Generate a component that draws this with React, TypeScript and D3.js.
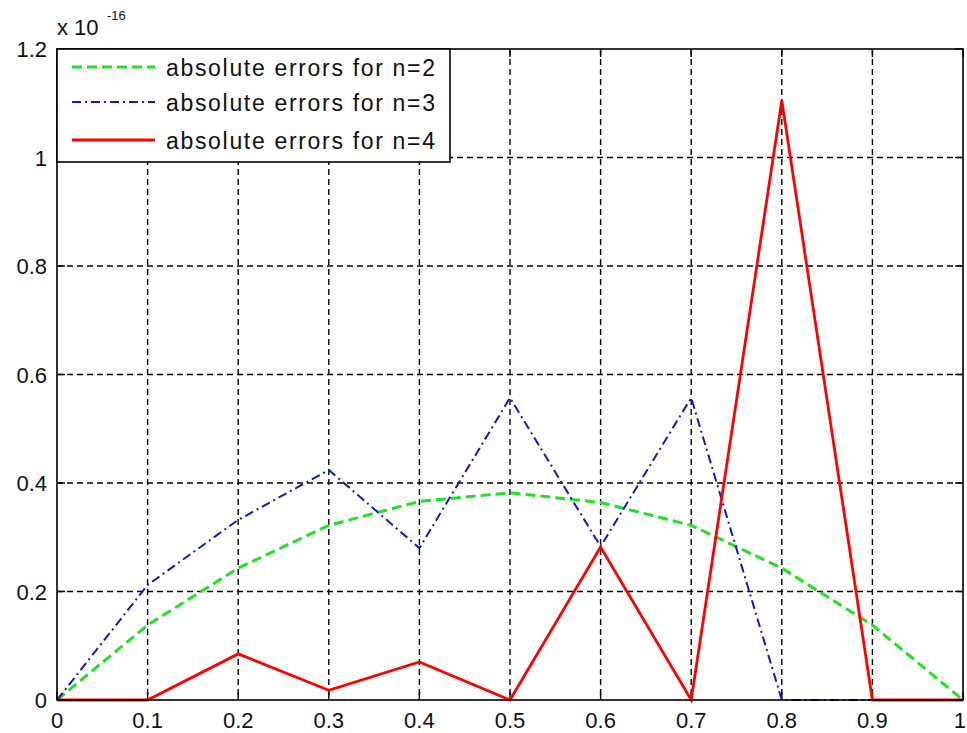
import React from "react";
import * as d3 from "d3";

const xs = [0, 0.1, 0.2, 0.3, 0.4, 0.5, 0.6, 0.7, 0.8, 0.9, 1];
const err2 = [0, 0.138, 0.243, 0.322, 0.366, 0.382, 0.364, 0.322, 0.243, 0.138, 0];
const err3 = [0, 0.212, 0.332, 0.424, 0.28, 0.557, 0.283, 0.557, 0, 0, 0];
const err4 = [0, 0, 0.085, 0.018, 0.07, 0, 0.282, 0, 1.105, 0, 0];
const xTicks = [0, 0.1, 0.2, 0.3, 0.4, 0.5, 0.6, 0.7, 0.8, 0.9, 1];
const yTicks = [0, 0.2, 0.4, 0.6, 0.8, 1, 1.2];
const legendLabels = ["absolute errors for n=2", "absolute errors for n=3", "absolute errors for n=4"];

const W = 967, H = 733;
const L = 57, R = 963, T = 49, B = 700;
const FONT = "Arial, 'Liberation Sans', Helvetica, sans-serif";

export default function App() {
  const x = d3.scaleLinear().domain([0, 1]).range([L, R]);
  const y = d3.scaleLinear().domain([0, 1.2]).range([B, T]);
  const line = d3.line<number>().x((_, i) => x(xs[i])).y((d) => y(d));
  const series = [
    { data: err2, color: "#22e022", width: 3, dash: "10,5" },
    { data: err3, color: "#1515d0", width: 2, dash: "9,4,2,4" },
    { data: err4, color: "#ff0000", width: 2.8, dash: "none" },
  ];
  return (
    <svg width={W} height={H} style={{ position: "absolute", left: 0, top: 0, background: "#fff" }}>
      <rect x={0} y={0} width={W} height={H} fill="#fff" />
      {xTicks.slice(1, -1).map((t) => (
        <line key={"gx" + t} x1={x(t)} x2={x(t)} y1={T} y2={B} stroke="#000" strokeWidth={1.4} strokeDasharray="6,4" />
      ))}
      {yTicks.slice(1, -1).map((t) => (
        <line key={"gy" + t} x1={L} x2={R} y1={y(t)} y2={y(t)} stroke="#000" strokeWidth={1.4} strokeDasharray="6,4" />
      ))}
      {xTicks.map((t, i) => {
        const last = i === xTicks.length - 1;
        return (
          <g key={"tx" + t}>
            <line x1={x(t)} x2={x(t)} y1={B} y2={B - 8} stroke="#000" strokeWidth={1.4} />
            <line x1={x(t)} x2={x(t)} y1={T} y2={T + 8} stroke="#000" strokeWidth={1.4} />
            <text x={last ? W - 1 : x(t)} y={B + 28} textAnchor={last ? "end" : "middle"} fontFamily={FONT} fontSize={22} fill="#111">{String(t)}</text>
          </g>
        );
      })}
      {yTicks.map((t) => (
        <g key={"ty" + t}>
          <line x1={L} x2={L + 8} y1={y(t)} y2={y(t)} stroke="#000" strokeWidth={1.4} />
          <line x1={R} x2={R - 8} y1={y(t)} y2={y(t)} stroke="#000" strokeWidth={1.4} />
          <text x={L - 10} y={y(t) + 8} textAnchor="end" fontFamily={FONT} fontSize={22} fill="#111">{String(t)}</text>
        </g>
      ))}
      {series.map((s, i) => (
        <path key={"s" + i} d={line(s.data) || ""} fill="none" stroke={s.color} strokeWidth={s.width} strokeDasharray={s.dash} strokeLinejoin="miter" />
      ))}
      <rect x={L} y={T} width={R - L} height={B - T} fill="none" stroke="#000" strokeWidth={1.6} />
      <text x={L} y={35} fontFamily={FONT} fontSize={22} fill="#111">x 10</text>
      <text x={107} y={20} fontFamily={FONT} fontSize={13} fill="#111">-16</text>
      <rect x={L} y={T} width={393} height={113} fill="#fff" stroke="#000" strokeWidth={1.6} />
      {legendLabels.map((lab, i) => {
        const s = series[i];
        const ly = [67, 102, 140][i];
        return (
          <g key={"lg" + i}>
            <line x1={72} x2={155} y1={ly} y2={ly} stroke={s.color} strokeWidth={s.width} strokeDasharray={s.dash} />
            <text x={166} y={ly + 9} fontFamily={FONT} fontSize={23} fill="#111" textLength={269} lengthAdjust="spacing">{lab}</text>
          </g>
        );
      })}
    </svg>
  );
}
